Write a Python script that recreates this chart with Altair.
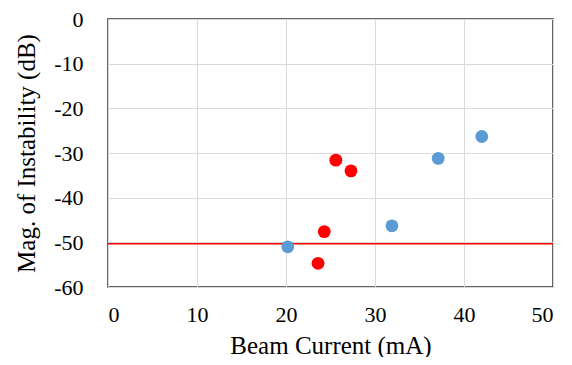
import altair as alt
import pandas as pd

blue_x = [20.2, 31.9, 37.1, 42.0]
blue_y = [-51.0, -46.3, -31.2, -26.3]
red_x = [23.6, 24.3, 25.6, 27.3]
red_y = [-54.7, -47.6, -31.6, -34.0]
threshold = [-50.3]
x_ticks = [0, 10, 20, 30, 40, 50]
y_ticks = [-60, -50, -40, -30, -20, -10, 0]

df = pd.DataFrame({
    "x": blue_x + red_x,
    "y": blue_y + red_y,
    "series": ["blue"] * len(blue_x) + ["red"] * len(red_x),
})
thr = pd.DataFrame({"y": threshold})

FONT = "Liberation Serif"

xs = alt.Scale(domain=[0, 50], nice=False, zero=False)
ys = alt.Scale(domain=[-60, 0], nice=False, zero=False)

points = alt.Chart(df).mark_circle(size=165, opacity=1).encode(
    x=alt.X("x:Q", scale=xs, title="Beam Current (mA)",
            axis=alt.Axis(values=x_ticks, ticks=False, domain=False,
                          labelExpr="'' + datum.value",
                          labelPadding=17, titlePadding=8, gridColor="#D9D9D9")),
    y=alt.Y("y:Q", scale=ys, title="Mag. of Instability (dB)",
            axis=alt.Axis(values=y_ticks, ticks=False, domain=False,
                          labelExpr="'' + datum.value",
                          labelPadding=25, titlePadding=14, gridColor="#D9D9D9")),
    color=alt.Color("series:N", scale=alt.Scale(domain=["blue", "red"], range=["#5B9BD5", "#FF0000"]),
                    legend=None),
)

line = alt.Chart(thr).mark_rule(color="#FF0000", strokeWidth=1.5).encode(
    y=alt.Y("y:Q", scale=ys)
)

chart = alt.layer(line, points).properties(
    width=445, height=268,
    background="white",
    autosize=alt.AutoSizeParams(type="none"),
    padding={"left": 100, "top": 11, "right": 11, "bottom": 70},
).configure_view(
    stroke="#333333", strokeWidth=1.5
).configure_axis(
    labelFont=FONT, titleFont=FONT, labelFontSize=22, titleFontSize=25,
    labelColor="#000000", titleColor="#000000", titleFontWeight="normal",
    gridWidth=1,
)

chart.save("out.html", embed_options={"renderer": "svg", "actions": False})
